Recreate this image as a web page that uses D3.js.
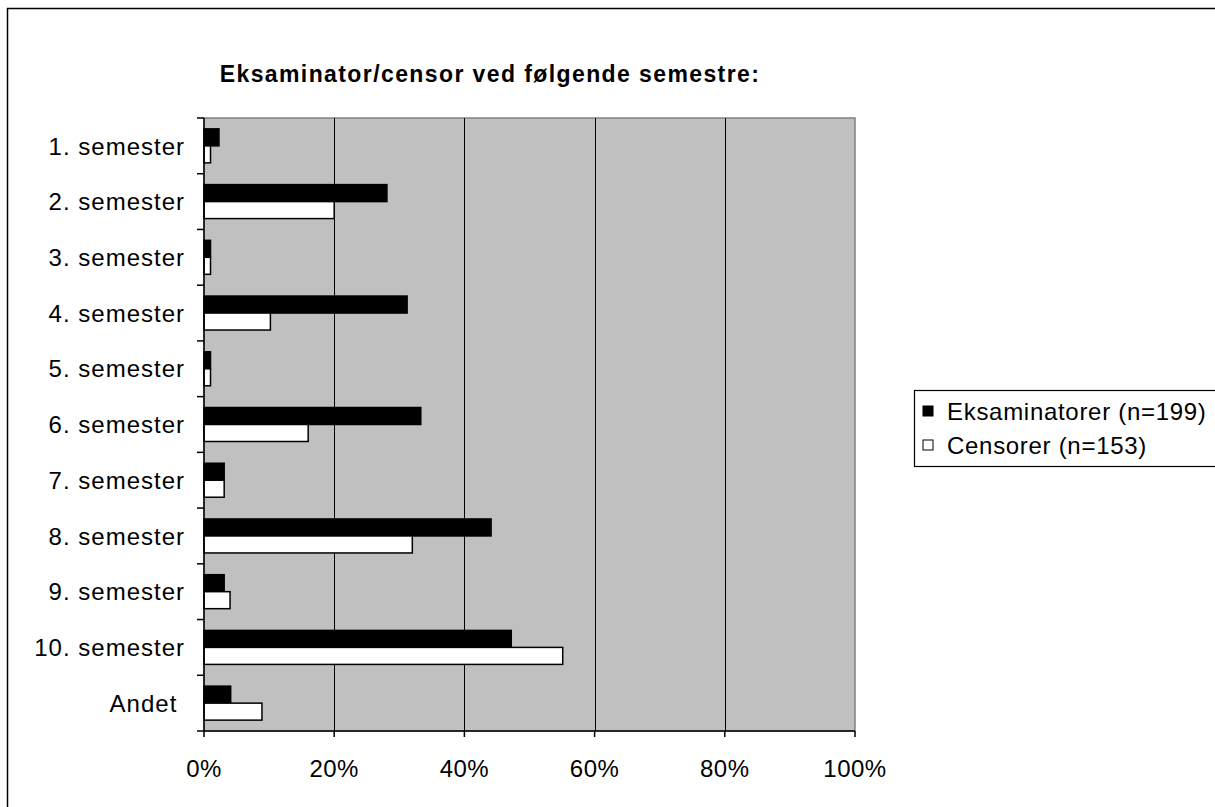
<!DOCTYPE html>
<html><head><meta charset="utf-8">
<script src="https://cdn.jsdelivr.net/npm/d3@7"></script>
<style>
body{margin:0;background:#fff;}
text{font-family:"Liberation Sans",Arial,sans-serif;white-space:pre;}
</style></head>
<body><svg id="c" width="1215" height="807"></svg>
<script>
const categories = ["1. semester","2. semester","3. semester","4. semester","5. semester","6. semester","7. semester","8. semester","9. semester","10. semester","Andet "];
const seriesNames = ["Eksaminatorer (n=199)","Censorer (n=153)"];
const eksaminatorer = [2.3,28.1,1.0,31.2,1.0,33.3,3.1,44.1,3.1,47.2,4.1];
const censorer = [1.0,20.0,1.0,10.2,1.0,16.0,3.1,32.0,4.0,55.1,8.9];
const xTicks = [0,20,40,60,80,100];
const title = "Eksaminator/censor ved følgende semestre:";

const svg = d3.select("#c");
const plot = {l:204, r:855, t:118, b:731};

// outer frame
svg.append("rect").attr("x",7.5).attr("y",8.5).attr("width",1300).attr("height",900)
  .attr("fill","#fff").attr("stroke","#000").attr("stroke-width",1.5);

const x = d3.scaleLinear().domain([0,100]).range([plot.l, plot.r]);
const y = d3.scaleBand().domain(categories).range([plot.t, plot.b]).paddingInner(0.39).paddingOuter(0.195);
const ySub = d3.scaleBand().domain(seriesNames).range([0, y.bandwidth()]);

// plot background
svg.append("rect").attr("x",plot.l).attr("y",plot.t).attr("width",plot.r-plot.l).attr("height",plot.b-plot.t)
  .attr("fill","#c0c0c0").attr("stroke","#808080").attr("stroke-width",1.5);

// gridlines
svg.append("g").selectAll("line").data(xTicks.filter(d=>d>0&&d<100)).join("line")
  .attr("x1",d=>Math.round(x(d))+0.5).attr("x2",d=>Math.round(x(d))+0.5)
  .attr("y1",plot.t).attr("y2",plot.b).attr("stroke","#000").attr("stroke-width",1);

// bars
const data = categories.map((c,i)=>({c, vals:[eksaminatorer[i], censorer[i]]}));
const g = svg.append("g");
data.forEach(d=>{
  d.vals.forEach((v,j)=>{
    g.append("rect")
      .attr("x", x(0))
      .attr("y", y(d.c)+ySub(seriesNames[j]))
      .attr("width", x(v)-x(0))
      .attr("height", ySub.bandwidth())
      .attr("fill", j===0 ? "#000" : "#fff")
      .attr("stroke","#000").attr("stroke-width",1.5);
  });
});

// y axis
const yBounds = d3.range(categories.length+1).map(i=> plot.t + i*(plot.b-plot.t)/categories.length);
svg.append("line").attr("x1",plot.l).attr("x2",plot.l).attr("y1",plot.t).attr("y2",plot.b)
  .attr("stroke","#000").attr("stroke-width",1.5);
svg.append("g").selectAll("line").data(yBounds).join("line")
  .attr("x1",plot.l-7).attr("x2",plot.l).attr("y1",d=>d).attr("y2",d=>d)
  .attr("stroke","#000").attr("stroke-width",1.5);
svg.append("g").selectAll("text").data(categories).join("text")
  .attr("x",185).attr("y",d=>y(d)+y.bandwidth()/2).attr("dy","0.36em")
  .attr("text-anchor","end").attr("font-size",24).attr("letter-spacing","1px").attr("fill","#000").text(d=>d);

// x axis
svg.append("line").attr("x1",plot.l).attr("x2",plot.r).attr("y1",plot.b).attr("y2",plot.b)
  .attr("stroke","#000").attr("stroke-width",1.5);
svg.append("g").selectAll("line").data(xTicks).join("line")
  .attr("x1",d=>x(d)).attr("x2",d=>x(d)).attr("y1",plot.b).attr("y2",plot.b+6)
  .attr("stroke","#000").attr("stroke-width",1.5);
svg.append("g").selectAll("text").data(xTicks).join("text")
  .attr("x",d=>x(d)).attr("y",777).attr("text-anchor","middle")
  .attr("font-size",24).attr("letter-spacing","0.5px").attr("fill","#000").text(d=>d+"%");

// title
svg.append("text").attr("x",490).attr("y",82).attr("text-anchor","middle")
  .attr("font-size",23).attr("font-weight","bold").attr("letter-spacing","1.4px").attr("fill","#000").text(title);

// legend
const lg = svg.append("g");
lg.append("rect").attr("x",914.5).attr("y",390.5).attr("width",320).attr("height",76)
  .attr("fill","#fff").attr("stroke","#000").attr("stroke-width",1.2);
const legY = [411, 445];
seriesNames.forEach((s,j)=>{
  lg.append("rect").attr("x",923).attr("y",legY[j]-5).attr("width",10).attr("height",10)
    .attr("fill", j===0?"#000":"#fff").attr("stroke","#000").attr("stroke-width",1);
  lg.append("text").attr("x",947).attr("y",legY[j]).attr("dy","0.36em")
    .attr("font-size",24).attr("letter-spacing","0.7px").attr("fill","#000").text(s);
});
</script></body></html>
